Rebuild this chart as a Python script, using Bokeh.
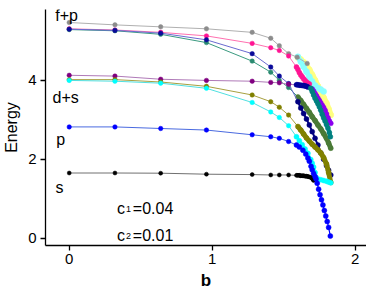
from bokeh.plotting import figure
from bokeh.models import Range1d, Label, FixedTicker
from bokeh.embed import file_html
from bokeh.resources import INLINE

# ---------------- data ----------------
s_b = [0.0, 0.32, 0.64, 0.96, 1.28, 1.41, 1.47, 1.535]

gray_e = [5.47, 5.41, 5.36, 5.31, 5.22, 5.07, 4.88, 4.68]
gray_xb = [1.595, 1.665]
gray_xe = [4.59, 4.43]

yellow_db = [1.60, 1.62, 1.64, 1.66, 1.68, 1.70, 1.72, 1.74, 1.76, 1.78, 1.80, 1.815, 1.83]
yellow_de = [4.58, 4.53, 4.46, 4.38, 4.27, 4.14, 4.00, 3.85, 3.70, 3.56, 3.42, 3.27, 3.12]

lightcyan_db = [1.60, 1.62, 1.64, 1.66, 1.68, 1.70, 1.72, 1.74, 1.76, 1.78]
lightcyan_de = [4.60, 4.48, 4.35, 4.22, 4.09, 3.97, 3.87, 3.81, 3.77, 3.72]

pink_e = [5.31, 5.28, 5.22, 5.13, 4.94, 4.83, 4.76, 4.62]
pink_db = [1.59, 1.60, 1.61, 1.62, 1.63, 1.64, 1.65, 1.66, 1.67, 1.68]
pink_de = [4.34, 4.28, 4.20, 4.14, 4.09, 4.04, 4.00, 3.96, 3.93, 3.91]

navy_e = [5.30, 5.27, 5.20, 5.03, 4.68, 4.34, 4.11, 3.92]
navy_db = [1.60, 1.62, 1.64, 1.66, 1.68, 1.70, 1.72, 1.74, 1.76, 1.78, 1.80, 1.815, 1.83]
navy_de = [3.46, 3.30, 3.16, 3.02, 2.87, 2.70, 2.53, 2.36, 2.16, 2.00, 1.84, 1.72, 1.60]

teal_e = [5.29, 5.26, 5.17, 4.96, 4.49, 4.21, 4.00, 3.82]
green_db = [1.60, 1.62, 1.64, 1.66, 1.68, 1.70, 1.72, 1.74, 1.76, 1.78, 1.80, 1.815, 1.83]
green_de = [3.58, 3.49, 3.39, 3.29, 3.19, 3.08, 2.98, 2.87, 2.77, 2.65, 2.53, 2.41, 2.28]

purple_e = [4.13, 4.11, 4.03, 4.00, 3.98, 3.95, 3.94, 3.90]
navyh_db = [1.59, 1.60, 1.61, 1.62, 1.63, 1.64, 1.65, 1.66, 1.67]
navyh_de = [3.89, 3.89, 3.88, 3.88, 3.87, 3.87, 3.86, 3.85, 3.83]

violet_db = [1.70, 1.71, 1.72, 1.73, 1.74, 1.75, 1.76, 1.77, 1.78, 1.79, 1.80, 1.81, 1.82, 1.83]
violet_de = [3.78, 3.73, 3.67, 3.61, 3.55, 3.49, 3.43, 3.37, 3.31, 3.24, 3.15, 3.05, 2.97, 2.91]

tealdense_db = [1.69, 1.70, 1.71, 1.72, 1.73, 1.74, 1.75, 1.76, 1.77, 1.78, 1.79, 1.80, 1.81, 1.82, 1.827]
tealdense_de = [3.80, 3.72, 3.63, 3.55, 3.48, 3.41, 3.33, 3.24, 3.14, 3.05, 2.97, 2.88, 2.79, 2.68, 2.57]

olive_e = [4.02, 4.02, 3.96, 3.85, 3.63, 3.46, 3.32, 3.12]
olive_db = [1.60, 1.62, 1.64, 1.66, 1.68, 1.70, 1.72, 1.74, 1.76, 1.78, 1.80, 1.815, 1.83]
olive_de = [2.83, 2.74, 2.64, 2.54, 2.46, 2.38, 2.31, 2.24, 2.16, 2.04, 1.88, 1.66, 1.41]

cyan_e = [4.00, 3.98, 3.93, 3.80, 3.44, 3.20, 3.06, 2.85]
cyan_db = [1.59, 1.61, 1.63, 1.65, 1.67, 1.69, 1.70, 1.71, 1.72, 1.727, 1.74, 1.76, 1.78, 1.80, 1.815, 1.83]
cyan_de = [2.57, 2.47, 2.37, 2.26, 2.15, 1.99, 1.90, 1.80, 1.66, 1.54, 1.50, 1.48, 1.46, 1.44, 1.42, 1.40]

black_e = [1.65, 1.65, 1.645, 1.62, 1.61, 1.60, 1.60, 1.60]
black_db = [1.59, 1.60, 1.61, 1.62, 1.63, 1.64, 1.65, 1.66, 1.67, 1.68, 1.69, 1.70, 1.71]
black_de = [1.59, 1.59, 1.59, 1.58, 1.58, 1.58, 1.57, 1.57, 1.56, 1.55, 1.54, 1.51, 1.46]

blue_e = [2.82, 2.82, 2.78, 2.74, 2.62, 2.57, 2.53, 2.45]
blue_db = [1.59, 1.61, 1.635, 1.655, 1.67, 1.68, 1.692, 1.70, 1.71, 1.72, 1.727, 1.735,
           1.745, 1.755, 1.765, 1.775, 1.785, 1.795, 1.805, 1.815, 1.827]
blue_de = [2.36, 2.31, 2.23, 2.13, 2.03, 1.95, 1.82, 1.73, 1.64, 1.56, 1.50, 1.39,
           1.24, 1.10, 0.97, 0.84, 0.70, 0.56, 0.42, 0.27, 0.05]

x_ticks = [0, 1, 2]
y_ticks = [0, 2, 4]
x_title = "b"
y_title = "Energy"
level_labels = ["f+p", "d+s", "p", "s"]
param_values = ["0.04", "0.01"]

FONT = "Liberation Sans"

p = figure(width=366, height=292, output_backend="svg", toolbar_location=None,
           x_range=Range1d(-0.166, 2.08), y_range=Range1d(-0.19, 5.8),
           min_border_left=43, min_border_right=0, min_border_top=9, min_border_bottom=46)
p.outline_line_color = None
p.grid.visible = False
p.background_fill_color = "white"
p.border_fill_color = "white"

for ax in (p.xaxis, p.yaxis):
    ax.axis_line_width = 1.3
    ax.axis_line_color = "black"
    ax.major_tick_line_width = 1.3
    ax.major_tick_line_color = "black"
    ax.major_tick_out = 5
    ax.major_tick_in = 0
    ax.minor_tick_line_color = None
    ax.major_label_text_font = FONT
    ax.major_label_text_font_size = "15px"
    ax.major_label_text_color = "black"
    ax.axis_label_text_font = FONT
    ax.axis_label_text_color = "black"

p.xaxis.ticker = FixedTicker(ticks=x_ticks)
p.yaxis.ticker = FixedTicker(ticks=y_ticks)
p.xaxis.axis_label = x_title
p.xaxis.axis_label_text_font_size = "17px"
p.xaxis.axis_label_text_font_style = "bold"
p.xaxis.axis_label_standoff = 4
p.xaxis.major_label_standoff = 3
p.yaxis.axis_label = y_title
p.yaxis.axis_label_text_font_size = "16px"
p.yaxis.axis_label_text_font_style = "normal"
p.yaxis.axis_label_standoff = 5
p.yaxis.major_label_standoff = 4


def thin(xs, ys, color, w=1.0):
    p.line(xs, ys, line_color=color, line_width=w)


def dots(xs, ys, color, size=4.5):
    p.scatter(xs, ys, size=size, fill_color=color, line_color=color, line_width=0.5)


def dense(xs, ys, color, w, size):
    p.line(xs, ys, line_color=color, line_width=w)
    p.scatter(xs, ys, size=size, fill_color=color, line_color=color, line_width=0.5)


# yellow and light cyan bands (underneath)
dense(yellow_db, yellow_de, "#ffff80", 6, 6)
dense(lightcyan_db, lightcyan_de, "#88ffff", 5, 6)

# gray
thin(s_b + gray_xb, gray_e + gray_xe, "#b0b0b0")
dots(s_b + gray_xb, gray_e + gray_xe, "#8c8c8c")

# pink
thin(s_b + pink_db[:1], pink_e + pink_de[:1], "#ff70b0")
dense(pink_db, pink_de, "#ff1493", 3, 5)
dots(s_b, pink_e, "#ff1493")

# teal (f+p) -> green dense
thin(s_b + green_db[:1], teal_e + green_de[:1], "#3a9a80")
dots(s_b, teal_e, "#2a8a70")
dense(green_db, green_de, "#4a7a36", 5, 5)

# navy (f+p)
thin(s_b + navy_db[:1], navy_e + navy_de[:1], "#6a6ad0")
dots(s_b, navy_e, "#0a0a9a")
dense(navy_db, navy_de, "#000080", 2, 5)

# purple (d+s) -> navy horizontal
thin(s_b + navyh_db[:1], purple_e + navyh_de[:1], "#b07ab8")
dots(s_b, purple_e, "#800080")
dense(navyh_db, navyh_de, "#000099", 4, 5)

# violet and teal dense
dense(violet_db, violet_de, "#8a00ee", 4, 5)
dense(tealdense_db, tealdense_de, "#008080", 4, 5)

# olive
thin(s_b + olive_db[:1], olive_e + olive_de[:1], "#a8a040")
dots(s_b, olive_e, "#808000")
dense(olive_db, olive_de, "#808000", 5, 5)

# cyan
thin(s_b + cyan_db[:1], cyan_e + cyan_de[:1], "#50e0e0")
dots(s_b, cyan_e, "#00ffff")
dense(cyan_db, cyan_de, "#00ffff", 2.5, 5)

# black
thin(s_b + black_db[:1], black_e + black_de[:1], "#707070")
dots(s_b, black_e, "#000000", 4)
dense(black_db, black_de, "#000000", 4, 4)

# blue
thin(s_b + blue_db[:1], blue_e + blue_de[:1], "#4a6ae0")
dots(s_b, blue_e, "#0000ff")
dense(blue_db, blue_de, "#0000ff", 1.2, 5)

# level labels
lab_pos = [(-0.098, 5.65), (-0.117, 3.57), (-0.090, 2.49), (-0.096, 1.28)]
for t, (x, y) in zip(level_labels, lab_pos):
    p.add_layout(Label(x=x, y=y, text=t, text_font=FONT, text_font_size="16px",
                       text_color="black", text_align="left", text_baseline="alphabetic"))

# c1, c2 labels
for i, (val, yy) in enumerate(zip(param_values, [0.76, 0.07])):
    p.add_layout(Label(x=0.335, y=yy, text="c", text_font=FONT, text_font_size="16px",
                       text_color="black", text_align="left", text_baseline="alphabetic"))
    p.add_layout(Label(x=0.398, y=yy - 0.03, text=str(i + 1), text_font=FONT, text_font_size="9px",
                       text_color="black", text_align="left", text_baseline="alphabetic"))
    p.add_layout(Label(x=0.445, y=yy, text="=" + val, text_font=FONT, text_font_size="16px",
                       text_color="black", text_align="left", text_baseline="alphabetic"))

open("out.html", "w").write(file_html(p, INLINE))
